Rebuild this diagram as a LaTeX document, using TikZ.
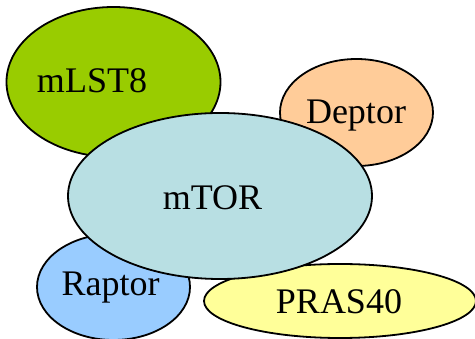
\documentclass[tikz,border=0pt]{standalone}
\usepackage{fontspec}
\setmainfont{Liberation Serif}
\usetikzlibrary{backgrounds}

\definecolor{lstgreen}{HTML}{99CC00}
\definecolor{deporange}{HTML}{FFCC99}
\definecolor{raptorblue}{HTML}{99CCFF}
\definecolor{prasyellow}{HTML}{FFFF99}
\definecolor{mtorcyan}{HTML}{B8DFE3}

\tikzset{
  blob/.style={draw=black, line width=1.8pt},
  sublabel/.style={font=\fontsize{36}{40}\selectfont, anchor=base, inner sep=0pt}
}

\begin{document}
\begin{tikzpicture}[x=1pt,y=-1pt]

\useasboundingbox (0,0) rectangle (475,339);
\clip (0,0) rectangle (475,339);

% subunits sitting behind the kinase
\filldraw[blob, fill=lstgreen] (113.5,82) ellipse [x radius=107, y radius=75];
\filldraw[blob, fill=deporange] (356.5,112.5) ellipse [x radius=76.5, y radius=53.5];
\filldraw[blob, fill=raptorblue] (113.5,287) ellipse [x radius=76.5, y radius=53];
\filldraw[blob, fill=prasyellow] (340,301) ellipse [x radius=136, y radius=37];

% the kinase on top
\filldraw[blob, fill=mtorcyan] (220,196) ellipse [x radius=152, y radius=83];

\node[sublabel] (mlst) at (92,93) {mLST8};
\node[sublabel] (deptor) at (356,124) {Deptor};
\node[sublabel] (mtor) at (212.5,210) {mTOR};
\node[sublabel] (raptor) at (110.5,296) {Raptor};
\node[sublabel] (pras) at (339,314) {PRAS40};

\end{tikzpicture}
\end{document}
